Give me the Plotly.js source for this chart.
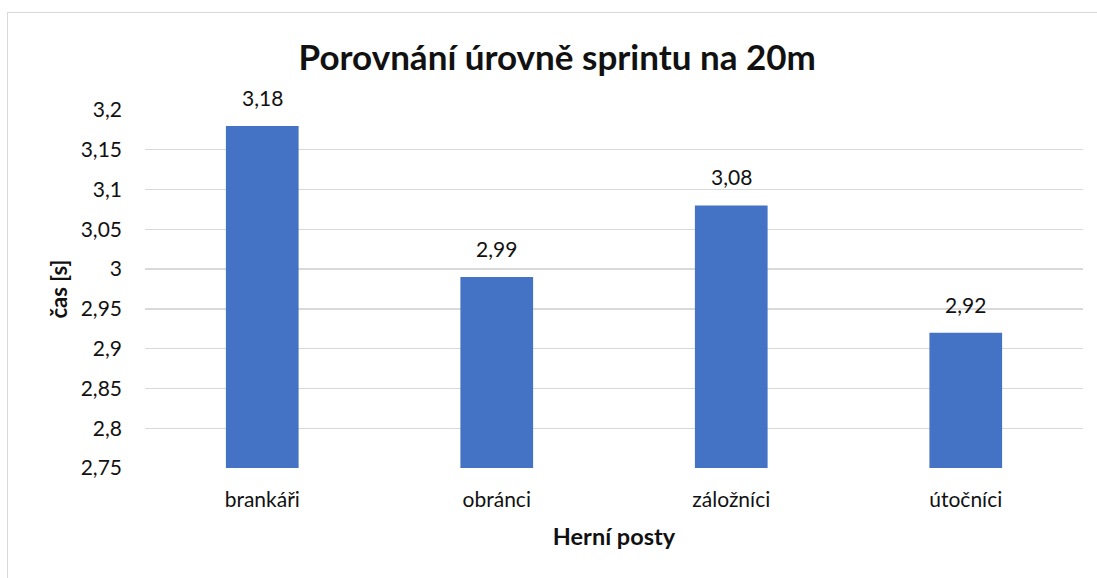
<!DOCTYPE html>
<html>
<head>
<meta charset="utf-8">
<script src="https://cdn.plot.ly/plotly-3.0.1.min.js"></script>
<style>
html,body{margin:0;padding:0;background:#fff;}
#frame{position:absolute;left:7px;top:12px;width:1200px;height:700px;border-left:1px solid #d9d9d9;border-top:1px solid #d9d9d9;pointer-events:none;}
#chart{position:absolute;left:0;top:0;width:1097px;height:578px;}
</style>
</head>
<body>
<div id="chart"></div>
<div id="frame"></div>
<script>
const categories = ["brankáři", "obránci", "záložníci", "útočníci"];
const values = [3.18, 2.99, 3.08, 2.92];
const valueLabels = ["3,18", "2,99", "3,08", "2,92"];
const tickValues = [2.75, 2.8, 2.85, 2.9, 2.95, 3, 3.05, 3.1, 3.15, 3.2];
const tickLabels = ["2,75", "2,8", "2,85", "2,9", "2,95", "3", "3,05", "3,1", "3,15", "3,2"];

const FONT = "Lato, 'Open Sans', sans-serif";
const textColor = "#111111";

const trace = {
  type: "bar",
  x: categories,
  y: values,
  marker: {color: "#4472C4"},
  width: 0.31,
  hoverinfo: "none"
};

const annotations = categories.map((c, i) => ({
  x: c, y: values[i], xref: "x", yref: "y",
  text: valueLabels[i], showarrow: false,
  yanchor: "bottom", yshift: 14,
  font: {family: FONT, size: 21, color: textColor}
}));

const layout = {
  width: 1097, height: 578,
  margin: {l: 145, r: 14, t: 110, b: 110},
  paper_bgcolor: "#ffffff", plot_bgcolor: "#ffffff",
  title: {text: "<b>Porovnání úrovně sprintu na 20m</b>", font: {family: FONT, size: 35, color: textColor}, x: 0.508, xanchor: "center", y: 0.9, yanchor: "middle", yref: "container"},
  xaxis: {
    type: "category",
    title: {text: "<b>Herní posty</b>", font: {family: FONT, size: 23.5, color: textColor}, standoff: 18},
    tickfont: {family: FONT, size: 21, color: textColor},
    showline: false, showgrid: false, ticks: "", ticklabelstandoff: 17
  },
  yaxis: {
    range: [2.75, 3.2],
    tickvals: tickValues, ticktext: tickLabels,
    title: {text: "<b>čas [s]</b>", font: {family: FONT, size: 22, color: textColor}, standoff: 6},
    tickfont: {family: FONT, size: 21, color: textColor},
    showgrid: true, gridcolor: "#d9d9d9", gridwidth: 1.3,
    zeroline: false, showline: false, ticks: "", ticklabelstandoff: 22
  },
  annotations: annotations,
  showlegend: false
};

Plotly.newPlot("chart", [trace], layout, {displayModeBar: false, staticPlot: true});
</script>
</body>
</html>
